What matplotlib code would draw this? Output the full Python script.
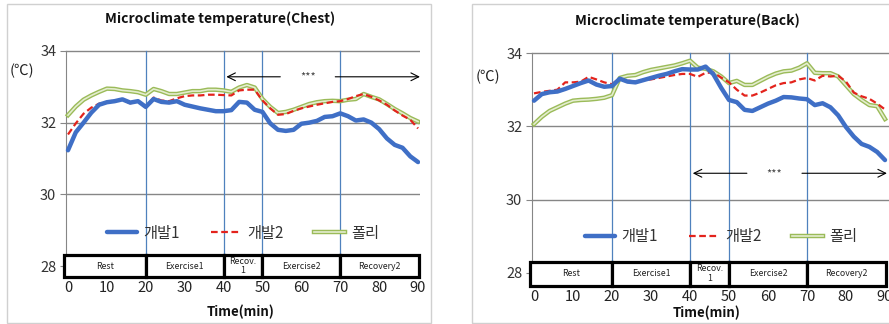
import matplotlib
matplotlib.use("Agg")
import matplotlib.pyplot as plt
from matplotlib.patches import Rectangle

plt.rcParams['font.family'] = ['Noto Sans CJK KR', 'DejaVu Sans']

# --- data ---
time_min = list(range(0, 91, 2))

chest_dev1 = [31.23, 31.73, 32.00, 32.28, 32.50, 32.57, 32.60, 32.65, 32.56, 32.60,
              32.44, 32.66, 32.58, 32.56, 32.60, 32.50, 32.45, 32.40, 32.36, 32.32,
              32.32, 32.35, 32.58, 32.56, 32.36, 32.30, 31.98, 31.80, 31.77, 31.80,
              31.97, 32.00, 32.05, 32.16, 32.18, 32.26, 32.18, 32.06, 32.09, 32.00,
              31.82, 31.56, 31.38, 31.30, 31.06, 30.90]
chest_dev2 = [31.67, 31.98, 32.25, 32.42, 32.53, 32.58, 32.62, 32.64, 32.54, 32.60,
              32.42, 32.70, 32.62, 32.60, 32.68, 32.74, 32.76, 32.76, 32.78, 32.78,
              32.77, 32.76, 32.90, 32.92, 32.92, 32.62, 32.40, 32.22, 32.24, 32.33,
              32.40, 32.45, 32.50, 32.54, 32.58, 32.60, 32.66, 32.74, 32.80, 32.72,
              32.62, 32.50, 32.34, 32.20, 32.08, 31.84]
chest_poly = [32.21, 32.45, 32.64, 32.76, 32.86, 32.95, 32.94, 32.90, 32.88, 32.85,
              32.78, 32.94, 32.88, 32.80, 32.80, 32.84, 32.88, 32.88, 32.92, 32.92,
              32.90, 32.86, 32.98, 33.05, 32.98, 32.66, 32.44, 32.27, 32.30, 32.36,
              32.44, 32.52, 32.57, 32.60, 32.61, 32.60, 32.64, 32.66, 32.80, 32.72,
              32.65, 32.52, 32.38, 32.26, 32.13, 32.03]

back_dev1 = [32.70, 32.88, 32.93, 32.95, 33.02, 33.10, 33.18, 33.25, 33.14, 33.08,
             33.10, 33.30, 33.22, 33.20, 33.26, 33.32, 33.38, 33.43, 33.50, 33.56,
             33.55, 33.55, 33.63, 33.42, 33.05, 32.72, 32.66, 32.45, 32.42, 32.52,
             32.62, 32.70, 32.80, 32.79, 32.76, 32.74, 32.58, 32.63, 32.52, 32.30,
             31.98, 31.72, 31.52, 31.44, 31.30, 31.08]
back_dev2 = [32.90, 32.94, 32.97, 33.00, 33.20, 33.20, 33.22, 33.35, 33.28, 33.20,
             33.15, 33.31, 33.25, 33.22, 33.26, 33.28, 33.32, 33.36, 33.40, 33.43,
             33.43, 33.35, 33.46, 33.47, 33.33, 33.20, 33.00, 32.84, 32.84, 32.92,
             33.02, 33.12, 33.18, 33.20, 33.28, 33.32, 33.25, 33.38, 33.36, 33.38,
             33.22, 32.92, 32.82, 32.75, 32.62, 32.46]
back_poly = [32.06, 32.26, 32.42, 32.52, 32.62, 32.70, 32.72, 32.73, 32.75, 32.78,
             32.85, 33.32, 33.38, 33.40, 33.48, 33.54, 33.58, 33.62, 33.66, 33.72,
             33.79, 33.60, 33.57, 33.50, 33.36, 33.18, 33.24, 33.13, 33.13, 33.24,
             33.35, 33.44, 33.50, 33.52, 33.60, 33.72, 33.46, 33.45, 33.45, 33.36,
             33.12, 32.88, 32.72, 32.58, 32.55, 32.20]

series_names = ["개발1", "개발2", "폴리"]
phase_names = ["Rest", "Exercise1", "Recov.\n1", "Exercise2", "Recovery2"]
phase_edges = [-1, 20, 40, 50, 70, 90.2]
phase_marks = [20, 40, 50, 70]
y_ticks = [28, 30, 32, 34]
x_ticks = [0, 10, 20, 30, 40, 50, 60, 70, 80, 90]

W, H = 889, 324
fig = plt.figure(figsize=(W / 100, H / 100), dpi=100)


def px_box(x0, x1, ytop, ybot):
    return [x0 / W, 1 - ybot / H, (x1 - x0) / W, (ybot - ytop) / H]


# panel borders (two pasted excel charts)
fig.patches.append(Rectangle((7 / W, 1 - 323 / H), 424 / W, 319 / H, transform=fig.transFigure,
                             fill=False, edgecolor="#d0d0d0", lw=1))
fig.patches.append(Rectangle((472 / W, 1 - 323 / H), 430 / W, 319 / H, transform=fig.transFigure,
                             fill=False, edgecolor="#d0d0d0", lw=1))


def draw_panel(ax, d1, d2, poly, xlim, ylim, box_y, arrow_y, leg_xy):
    ax.set_xlim(*xlim)
    ax.set_ylim(*ylim)
    for s in ["top", "right", "bottom"]:
        ax.spines[s].set_visible(False)
    ax.spines["left"].set_position(("data", -0.5))
    ax.spines["left"].set_bounds(28, 34)
    ax.spines["left"].set_color("#868686")
    ax.set_yticks(y_ticks)
    ax.tick_params(axis="y", length=4, color="#868686", labelsize=10.5,
                   labelcolor="#333333", pad=3)
    ax.set_xticks(x_ticks)
    ax.tick_params(axis="x", length=0, labelsize=10.5, labelcolor="#222222", pad=2)
    for yv in [30, 32, 34]:
        ax.plot([-0.5, xlim[1]], [yv, yv], color="#868686", lw=1, zorder=1)

    # phase separators
    for xm in phase_marks:
        ax.plot([xm, xm], [box_y[1], 34], color="#4f81bd", lw=0.9, zorder=2)

    # series
    l1, = ax.plot(time_min, d1, color="#3f6fc6", lw=3.2, solid_capstyle="round", zorder=5)
    l2, = ax.plot(time_min, d2, color="#e3231c", lw=1.6, ls=(0, (3, 1.6)), zorder=4)
    ax.plot(time_min, poly, color="#9bbb59", lw=3.2, zorder=3)
    l3, = ax.plot(time_min, poly, color="#e4edcf", lw=1.2, zorder=3)

    # phase boxes
    for i, name in enumerate(phase_names):
        x0, x1 = phase_edges[i], phase_edges[i + 1]
        ax.add_patch(Rectangle((x0, box_y[0]), x1 - x0, box_y[1] - box_y[0],
                               facecolor="white", edgecolor="black", lw=2.3, zorder=6,
                               clip_on=False))
        yc = (box_y[0] + box_y[1]) / 2
        ax.text((x0 + x1) / 2, yc, name, ha="center", va="center", fontsize=6.3,
                color="#222222", linespacing=1.1, zorder=7)

    # *** arrows
    ap = dict(arrowstyle="->", lw=0.8, color="black", mutation_scale=14)
    ax.annotate("", xy=(40, arrow_y), xytext=(55.3, arrow_y), arrowprops=ap)
    ax.annotate("", xy=(91.2, arrow_y), xytext=(68, arrow_y), arrowprops=ap,
                annotation_clip=False)
    ax.text(61.7, arrow_y, "***", ha="center", va="center", fontsize=8, color="#444444")

    # legend with double-line handle for 폴리
    from matplotlib.lines import Line2D
    poly_outer = Line2D([], [], color="#9bbb59", lw=3.2)
    poly_inner = Line2D([], [], color="#e4edcf", lw=1.2)
    ax.legend([l1, l2, (poly_outer, poly_inner)], series_names, ncol=3, frameon=False,
              loc="center left", bbox_to_anchor=leg_xy, fontsize=11, handlelength=2.0,
              handletextpad=0.4, columnspacing=2.0, labelcolor="#333333",
              borderaxespad=0, borderpad=0)


# left panel: Chest
axL = fig.add_axes(px_box(64.1, 420.0, 49.2, 278.2))
draw_panel(axL, chest_dev1, chest_dev2, chest_poly, (-1, 90.5), (27.66, 34.05),
           (27.68, 28.32), 33.28, (0.12, 0.197))
fig.text(220 / W, 1 - 19 / H, "Microclimate temperature(Chest)", ha="center", va="center",
         fontsize=10, fontweight="bold", color="#111111")
fig.text(22 / W, 1 - 71 / H, "(℃)", ha="center", va="center", fontsize=10.5, color="#222222")
fig.text(241 / W, 1 - 312 / H, "Time(min)", ha="center", va="center", fontsize=9.5,
         fontweight="bold", color="#111111")

# right panel: Back
axR = fig.add_axes(px_box(530.1, 892.8, 51.2, 286.9))
draw_panel(axR, back_dev1, back_dev2, back_poly, (-1, 92), (27.62, 34.05),
           (27.65, 28.31), 30.72, (0.151, 0.212))
fig.text(687 / W, 1 - 21 / H, "Microclimate temperature(Back)", ha="center", va="center",
         fontsize=10, fontweight="bold", color="#111111")
fig.text(488 / W, 1 - 77 / H, "(℃)", ha="center", va="center", fontsize=10.5, color="#222222")
fig.text(707 / W, 1 - 313 / H, "Time(min)", ha="center", va="center", fontsize=9.5,
         fontweight="bold", color="#111111")

fig.savefig("out.png", dpi=100)
